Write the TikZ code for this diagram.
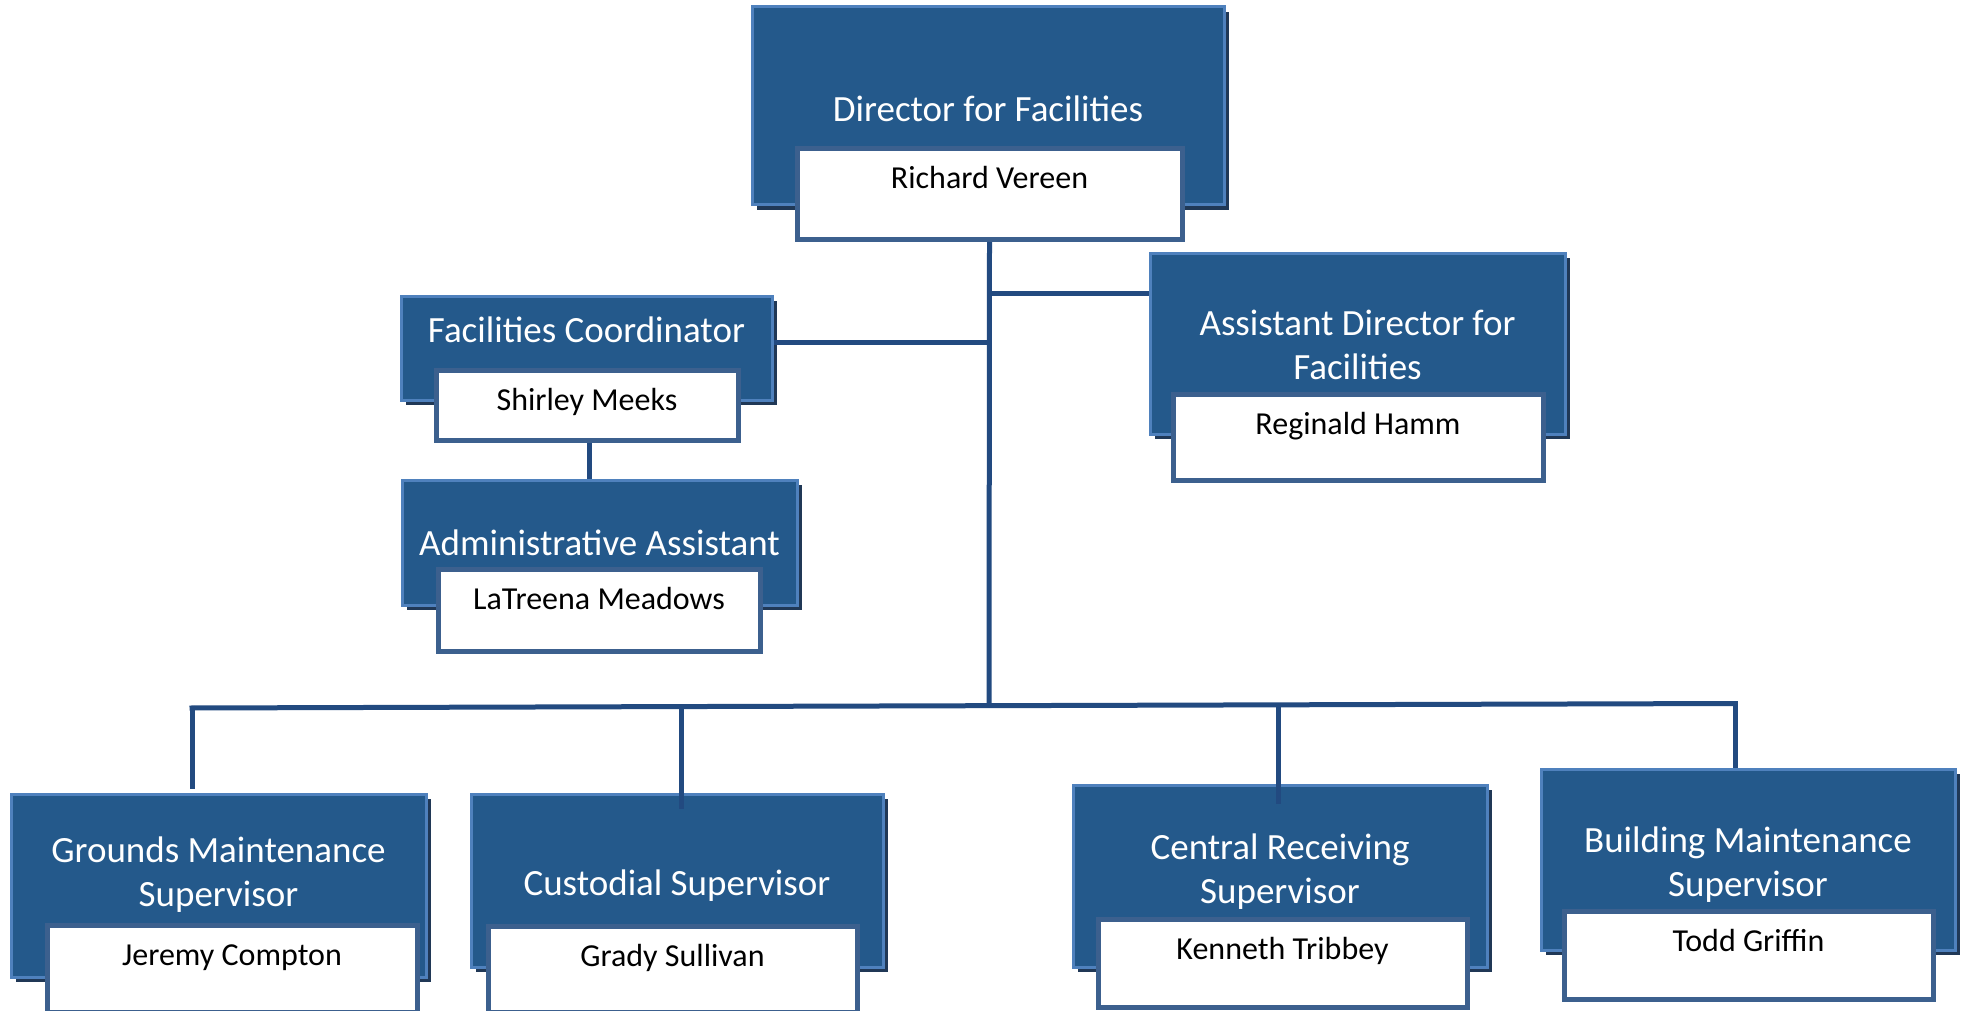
\documentclass[tikz,border=0pt]{standalone}
\usepackage{fontspec}
\setmainfont{Carlito}
\usetikzlibrary{shadows}
\definecolor{boxfill}{RGB}{36,89,139}
\definecolor{boxedge}{RGB}{79,129,189}
\definecolor{shadowc}{RGB}{32,56,86}
\definecolor{nameedge}{RGB}{60,96,142}
\definecolor{linec}{RGB}{34,74,128}
\tikzset{
  bluebox/.style={draw=boxedge, line width=3pt, fill=boxfill, inner sep=0pt,
    drop shadow={shadow xshift=5pt, shadow yshift=-5pt, fill=shadowc, opacity=1}},
  titletext/.style={text=white, font=\fontsize{37}{44}\selectfont, align=center, inner sep=0pt},
  namebox/.style={draw=nameedge, line width=5pt, fill=white, inner sep=0pt, anchor=north,
    font=\fontsize{32}{38}\selectfont, text=black, text height=40pt},
  conn/.style={draw=linec, line width=5pt}
}
\begin{document}
\begin{tikzpicture}[x=1pt,y=-1pt]
\useasboundingbox (0,0) rectangle (1965,1011);
% Director
\node[bluebox, minimum width=472pt, minimum height=198pt] (dirB) at (988,106) {};
\node[titletext] (dirT) at (988,109) {Director for Facilities};
\node[namebox, minimum width=385pt, text depth=51pt] (dirN) at (989.5,146) {Richard Vereen};
% Facilities Coordinator
\node[bluebox, minimum width=371pt, minimum height=104pt] (fcB) at (586.5,348) {};
\node[titletext] (fcT) at (586.5,330) {Facilities Coordinator};
\node[namebox, minimum width=302pt, text depth=30pt] (fcN) at (587,368) {Shirley Meeks};
% Administrative Assistant
\node[bluebox, minimum width=395pt, minimum height=125pt] (aaB) at (599.5,542.5) {};
\node[titletext] (aaT) at (599.5,543) {Administrative Assistant};
\node[namebox, minimum width=322pt, text depth=42pt] (aaN) at (599,567) {LaTreena Meadows};
% Assistant Director
\node[bluebox, minimum width=415pt, minimum height=181pt] (adB) at (1357.5,343.5) {};
\node[titletext] (adT) at (1357.5,345) {Assistant Director for\\Facilities};
\node[namebox, minimum width=370pt, text depth=46pt] (adN) at (1358,392) {Reginald Hamm};
% Grounds
\node[bluebox, minimum width=415pt, minimum height=183pt] (grB) at (218.5,885.5) {};
\node[titletext] (grT) at (218.5,875) {Grounds Maintenance\\Supervisor};
\node[namebox, minimum width=370pt, text depth=47pt] (grN) at (232,923) {Jeremy Compton};
% Custodial
\node[bluebox, minimum width=412pt, minimum height=173pt] (cuB) at (677,880.5) {};
\node[titletext] (cuT) at (677,885.5) {Custodial Supervisor};
\node[namebox, minimum width=369pt, text depth=46pt] (cuN) at (672.5,924) {Grady Sullivan};
% Central Receiving
\node[bluebox, minimum width=414pt, minimum height=182pt] (crB) at (1280,876) {};
\node[titletext] (crT) at (1280,872) {Central Receiving\\Supervisor};
\node[namebox, minimum width=369pt, text depth=48pt] (crN) at (1282.5,917) {Kenneth Tribbey};
% Building Maintenance
\node[bluebox, minimum width=414pt, minimum height=181pt] (bmB) at (1748,859.5) {};
\node[titletext] (bmT) at (1748,865) {Building Maintenance\\Supervisor};
\node[namebox, minimum width=369pt, text depth=48pt] (bmN) at (1748.5,909) {Todd Griffin};
% junctions
\coordinate (jad) at (989,293);
\coordinate (jfc) at (989,342);
\coordinate (busL) at (192,708);
\coordinate (busC) at (989,705.5);
\coordinate (busR) at (1735,703.5);
\coordinate (jcu) at (681,706.5);
\coordinate (jcr) at (1278,704.5);
% connectors
\draw[conn] (dirN.south) -- (busC);
\draw[conn] (jad) -- (adB.west |- jad);
\draw[conn] (fcB.east |- jfc) -- (jfc);
\draw[conn] (fcN.south -| 589,0) -- (589,0 |- aaB.north);
\draw[conn] ([xshift=-2.5pt]busL) -- ([xshift=2.5pt]busR);
\draw[conn] ([yshift=2.5pt]busL) -- ([yshift=4pt]busL |- grB.north);
\draw[conn] (jcu) -- ([yshift=-16pt]jcu |- cuB.north);
\draw[conn] (jcr) -- ([yshift=-20pt]jcr |- crB.north);
\draw[conn] ([yshift=2.5pt]busR) -- (busR |- bmB.north);
\end{tikzpicture}
\end{document}
